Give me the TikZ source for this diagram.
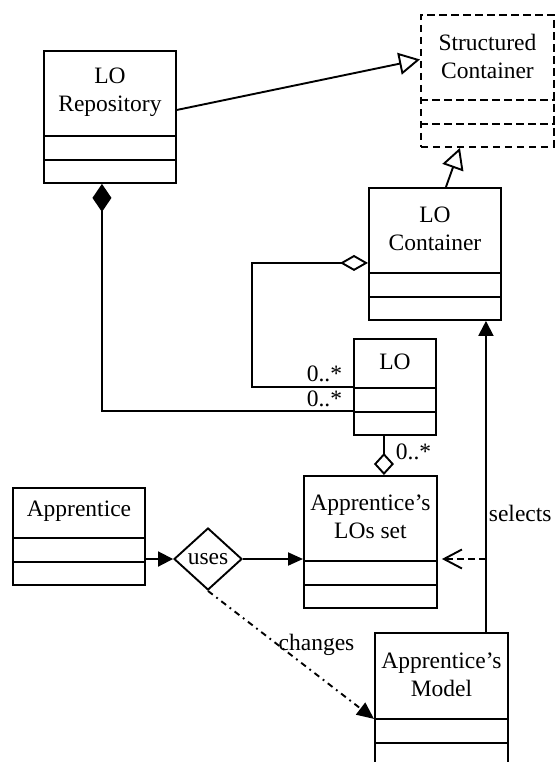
\documentclass[tikz,border=0pt]{standalone}
\usepackage{fontspec}
\setmainfont{Liberation Serif}
\usetikzlibrary{arrows.meta,shapes.geometric,calc}

% UML class box: [style]{name}{top-left}{width}{name compartment height}{title}
% Two empty compartments of 24pt each sit below the name compartment.
\newcommand\umlclass[6][]{%
  \node[clsbox,#1,anchor=north west,minimum width=#4,minimum height=#5+48] (#2) at (#3) {};
  \node[clsname] (#2-name) at ([yshift=-#5/2]#2.north) {#6};
  \draw[#1] ([yshift=24]#2.south west) -- ([yshift=24]#2.south east);
  \draw[#1] ([yshift=48]#2.south west) -- ([yshift=48]#2.south east);
}

\begin{document}
\begin{tikzpicture}[x=1pt,y=1pt,line width=1.9pt,
  every node/.style={font=\fontsize{23.5}{28}\selectfont},
  clsbox/.style={draw,rectangle,inner sep=0},
  clsname/.style={align=center,inner sep=0},
  dashedbox/.style={dash pattern=on 7.5pt off 4.5pt},
  usesdiamond/.style={draw,diamond,inner sep=0,minimum width=68,minimum height=62},
  mult/.style={inner sep=0},
  generalize/.style={-{Triangle[open,length=21pt,width=22pt]}},
  filledtip/.style={-{Triangle[length=15pt,width=15pt]}},
  dependency/.style={dash pattern=on 7pt off 4pt,-{Straight Barb[length=18pt,width=19pt]},shorten >=4pt},
  dashdot/.style={dash pattern=on 6pt off 4.5pt on 1.8pt off 4.5pt,-{Triangle[length=17pt,width=15pt]}}]

\useasboundingbox (0,0) rectangle (557,-762);
\clip (0,0) rectangle (557,-762);

% classes
\umlclass{repo}{43,-50}{132}{84}{LO\\Repository}
\umlclass[dashedbox]{sc}{420,-14}{133}{84}{Structured\\Container}
\umlclass{loc}{368,-187}{132}{84}{LO\\Container}
\umlclass{lo}{353,-338}{82}{48}{LO}
\umlclass{app}{12,-487}{132}{49}{Apprentice}
\umlclass{alos}{303,-475}{133}{84}{Apprentice’s\\LOs set}
\umlclass{model}{374,-632}{133}{85}{Apprentice’s\\Model}

% association diamond
\node[usesdiamond] (uses) at (208,-559) {uses};

% generalizations
\draw[generalize] ([yshift=7]repo.east) -- ([yshift=21.5]sc.west);
\draw[generalize] ([xshift=11]loc.north) -- ([xshift=-27.5]sc.south);

% composition: repository holds LOs
\draw[{Diamond[length=28pt,width=19pt]}-] ([xshift=-8]repo.south) |- ([yshift=-24]lo.west)
  node[mult,pos=1,anchor=south east,xshift=-10pt,yshift=3pt] {0..*};

% aggregation: container holds LOs
\draw[{Diamond[open,length=28pt,width=16pt]}-] ([yshift=-9]loc.west) -| ([xshift=-101]lo.west) -- (lo.west)
  node[mult,pos=1,anchor=south east,xshift=-10pt,yshift=4pt] {0..*};

% aggregation: LOs set holds LOs
\draw[-{Diamond[open,length=22pt,width=20pt]}] ([xshift=-11]lo.south) -- ([xshift=13.5]alos.north)
  node[mult,pos=0.4,anchor=west,xshift=11pt] {0..*};

% uses association
\draw[filledtip] (app.east |- uses.west) -- (uses.west);
\draw[-{Triangle[length=15pt,width=13pt]}] (uses.east) -- (uses.east -| alos.west);

% selects
\coordinate (selfoot) at ([xshift=44.5]model.north);
\draw[filledtip] (selfoot) -- (selfoot |- loc.south)
  node[pos=0.38,anchor=west,inner sep=2pt] {selects};
\draw[dependency] (selfoot |- uses.east) -- (uses.east -| alos.east);

% changes
\draw[dashdot] (uses.south) -- ([yshift=48]model.south west)
  node[pos=0.42,anchor=west,inner sep=0] {changes};
\end{tikzpicture}
\end{document}
